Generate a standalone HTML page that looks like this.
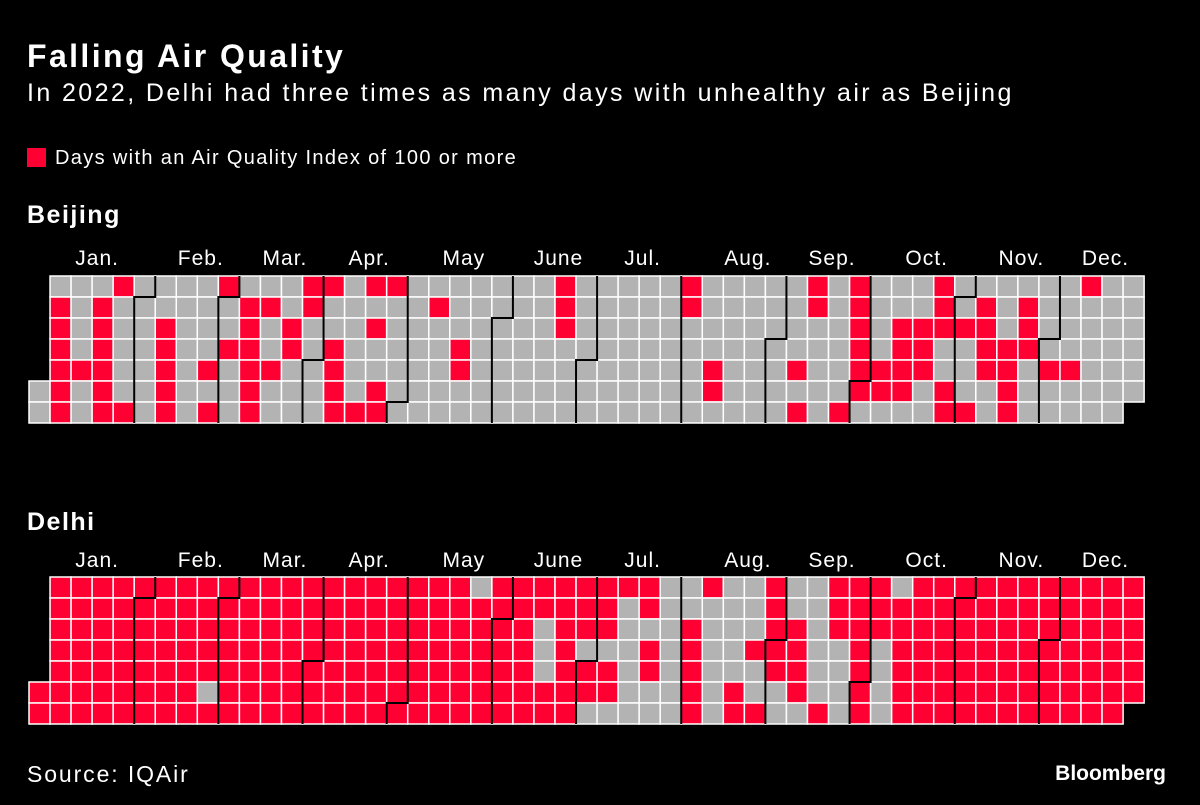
<!DOCTYPE html>
<html><head><meta charset="utf-8">
<style>
html,body{margin:0;padding:0;background:#000;}
body{width:1200px;height:805px;position:relative;overflow:hidden;font-family:"Liberation Sans",sans-serif;color:#fff;}
.t{position:absolute;white-space:nowrap;}
</style></head>
<body>
<div class="t" style="left:27px;top:38px;font-size:32px;font-weight:bold;letter-spacing:2.4px;">Falling Air Quality</div>
<div class="t" style="left:27px;top:79px;font-size:25px;letter-spacing:2.4px;">In 2022, Delhi had three times as many days with unhealthy air as Beijing</div>
<div style="position:absolute;left:27px;top:148px;width:19px;height:19px;background:#ff0033;"></div>
<div class="t" style="left:55px;top:147px;font-size:20px;letter-spacing:1.35px;">Days with an Air Quality Index of 100 or more</div>
<div class="t" style="left:27px;top:201px;font-size:25px;font-weight:bold;letter-spacing:1.5px;">Beijing</div>
<div class="t" style="left:27px;top:508px;font-size:25px;font-weight:bold;letter-spacing:1.5px;">Delhi</div>
<div class="t" style="left:27px;top:761px;font-size:23px;letter-spacing:1.9px;">Source: IQAir</div>
<div class="t" style="right:34px;top:762px;font-size:21px;font-weight:bold;">Bloomberg</div>
<svg id="chart" width="1200" height="805" style="position:absolute;left:0;top:0;"></svg>
<script>
const monthLabels = ["Jan.","Feb.","Mar.","Apr.","May","June","Jul.","Aug.","Sep.","Oct.","Nov.","Dec."];
const monthDays = [31,28,31,30,31,30,31,31,30,31,30,31];
const beijingWeeks = [".....00","0111111","0000100","0111111","1000001","0000000","0011111","0000000","0000101","1001000","0111111","0100100","0011000","1100000","1001111","0000001","1010011","1000000","0000000","0100000","0001100","0000000","0000000","0000000","0000000","1110000","0000000","0000000","0000000","0000000","0000000","1100000","0000110","0000000","0000000","0000000","0000101","1100000","0000001","1111110","0000110","0011110","0011100","1110011","0010001","0111100","0001111","0111000","0000100","0000100","1000000","0000000","000000."];
const delhiWeeks = [".....11","1111111","1111111","1111111","1111111","1111111","1111111","1111111","1111101","1111111","1111111","1111111","1111111","1111111","1111111","1111111","1111111","1111111","1111111","1111111","1111111","0111111","1111111","1111111","1100011","1111111","1110110","1110110","1000000","1101100","0000000","0011111","1000000","0000011","0001001","1111100","0011110","0000001","1110000","1111111","1110000","0111111","1111111","1111111","1111111","1111111","1111111","1111111","1111111","1111111","1111111","1111111","111111."];

const NS="http://www.w3.org/2000/svg";
const svg=document.getElementById('chart');
const X0=29, CW=21.04, CH=21, LABEL_SHIFT=14;
function xPos(col){return X0+col*CW;}
function yPos(y0,row){return y0+row*CH;}
function drawCity(weeks,y0,labelY,city){
  const g=document.createElementNS(NS,'g');
  
  
  svg.appendChild(g);
  weeks.forEach((w,c)=>{
    for(let r=0;r<7;r++){
      const ch=w[r];
      if(ch==='.')continue;
      const rect=document.createElementNS(NS,'rect');
      
      
      rect.setAttribute('x',xPos(c));
      rect.setAttribute('y',yPos(y0,r));
      rect.setAttribute('width',CW);
      rect.setAttribute('height',CH);
      rect.setAttribute('fill',ch==='1'?'#ff0033':'#b3b3b3');
      rect.setAttribute('stroke','#fff');
      rect.setAttribute('stroke-width','1.5');
      g.appendChild(rect);
    }
  });
  let d=0;
  for(let m=0;m<12;m++){
    const idx=d+5, c=Math.floor(idx/7), r=idx%7;
    const lastIdx=d+monthDays[m]-1+5, lc=Math.floor(lastIdx/7);
    const t=document.createElementNS(NS,'text');
    
    
    t.setAttribute('x',(xPos(c)+xPos(lc+1))/2+(m===0?5:LABEL_SHIFT));
    t.setAttribute('y',labelY);
    t.setAttribute('text-anchor','middle');
    t.setAttribute('fill','#fff');
    t.setAttribute('font-size','21');
    t.setAttribute('letter-spacing','1');
    t.setAttribute('font-family','Liberation Sans, sans-serif');
    t.textContent=monthLabels[m];
    svg.appendChild(t);
    if(m>0){
      const p=document.createElementNS(NS,'path');
      
      
      let dd;
      if(r===0) dd=`M${xPos(c)},${y0} V${y0+7*CH}`;
      else dd=`M${xPos(c+1)},${y0} V${yPos(y0,r)} H${xPos(c)} V${y0+7*CH}`;
      p.setAttribute('d',dd);
      p.setAttribute('stroke','#000');
      p.setAttribute('stroke-width','2');
      p.setAttribute('fill','none');
      svg.appendChild(p);
    }
    d+=monthDays[m];
  }
}
drawCity(beijingWeeks,276,265,'beijing');
drawCity(delhiWeeks,577,567,'delhi');
</script>
</body></html>
